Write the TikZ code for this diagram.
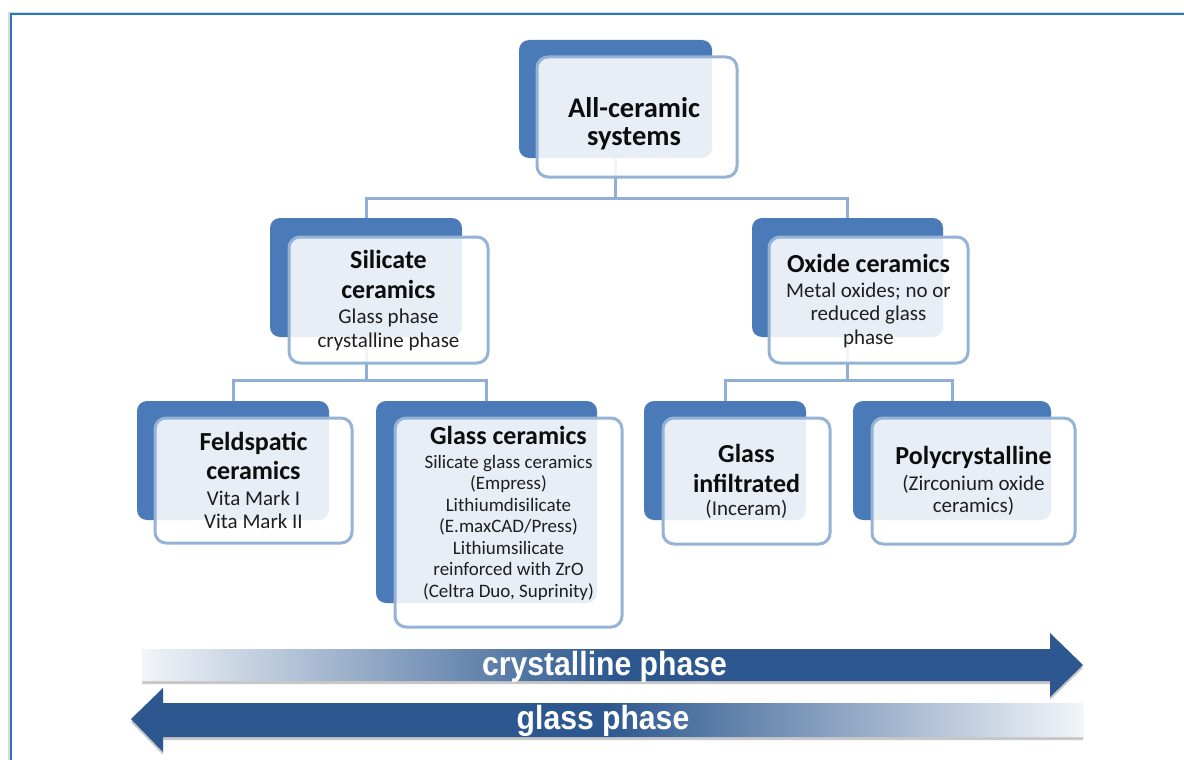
\documentclass[tikz,border=0pt]{standalone}
\usepackage{fontspec}
\setmainfont{Carlito}
\newfontfamily\arrowfont[FakeStretch=0.9]{Liberation Sans}
\usetikzlibrary{calc}
\definecolor{boxdark}{RGB}{74,122,184}
\definecolor{boxline}{RGB}{149,179,215}
\definecolor{connc}{RGB}{145,175,214}
\definecolor{arrdark}{RGB}{45,88,143}
\definecolor{framec}{RGB}{35,120,200}
\definecolor{arrlight}{RGB}{242,245,249}
\pgfdeclarehorizontalshading{crysshade}{100bp}{color(0bp)=(arrlight); color(25bp)=(arrlight); color(50bp)=(arrdark); color(100bp)=(arrdark)}
\pgfdeclarehorizontalshading{glassshade}{100bp}{color(0bp)=(arrdark); color(50bp)=(arrdark); color(75bp)=(arrlight); color(100bp)=(arrlight)}
\pgfdeclarelayer{backlayer}
\pgfdeclarelayer{connlayer}
\pgfsetlayers{backlayer,connlayer,main}
\tikzset{
  darkbox/.style={fill=boxdark, rounded corners=10pt, inner sep=0pt, draw=none},
  frontbox/.style={fill=white, fill opacity=0.88, draw=boxline, line width=3pt, rounded corners=11pt, inner sep=0pt},
  conn/.style={draw=connc, line width=3pt},
  ttl/.style={font=\fontsize{26}{30}\selectfont\bfseries, align=center, inner sep=0pt, anchor=north, text=black!95},
  bdy/.style={font=\fontsize{21}{23.5}\selectfont, align=center, inner sep=0pt, anchor=north, text=black!88},
  arrtxt/.style={font=\arrowfont\bfseries\fontsize{33.5}{33.5}\selectfont, text=white, inner sep=0pt, anchor=base},
  arrshadow/.style={fill=black, opacity=0.22},
}
\begin{document}
\begin{tikzpicture}[x=1pt,y=-1pt]
\useasboundingbox (0,0) rectangle (1184,760);
\begin{pgfonlayer}{backlayer}
\fill[white] (0,0) rectangle (1184,760);
\draw[black!15, line width=1.5pt] (9,760) -- (9,12.5) -- (1184,12.5);
\draw[framec, line width=2pt] (10.5,760) -- (10.5,14) -- (1184,14);
\end{pgfonlayer}

% dark boxes
\node[darkbox, minimum width=193pt, minimum height=118pt] (topD) at (615.5,99) {};
\node[darkbox, minimum width=192pt, minimum height=119pt] (silD) at (366,277.5) {};
\node[darkbox, minimum width=191pt, minimum height=119pt] (oxD) at (847.5,277.5) {};
\node[darkbox, minimum width=192pt, minimum height=119pt] (felD) at (233,460.5) {};
\node[darkbox, minimum width=221pt, minimum height=202pt] (gcD) at (486.5,502) {};
\node[darkbox, minimum width=162pt, minimum height=119pt] (giD) at (725,460.5) {};
\node[darkbox, minimum width=198pt, minimum height=119pt] (poD) at (952,460.5) {};

% front boxes
\node[frontbox, minimum width=200pt, minimum height=120pt] (topF) at (637,117) {};
\node[frontbox, minimum width=199pt, minimum height=126pt] (silF) at (388.5,300) {};
\node[frontbox, minimum width=199pt, minimum height=126pt] (oxF) at (868.5,300) {};
\node[frontbox, minimum width=197pt, minimum height=125pt] (felF) at (253.5,480.5) {};
\node[frontbox, minimum width=227pt, minimum height=209pt] (gcF) at (508.5,522.5) {};
\node[frontbox, minimum width=167pt, minimum height=126pt] (giF) at (746.5,481) {};
\node[frontbox, minimum width=203pt, minimum height=126pt] (poF) at (973.5,481) {};

% connectors
\coordinate (j1) at (topD.center |- 0,198);
\coordinate (j2) at (silD.center |- 0,380);
\coordinate (j3) at (oxD.center |- 0,380);
\begin{pgfonlayer}{connlayer}
\draw[conn] (topD.center) -- (j1);
\draw[conn] (silD.center) |- (j1) -| (oxD.center);
\draw[conn] (silD.center) -- (j2);
\draw[conn] (felD.center) |- (j2) -| (gcD.center);
\draw[conn] (oxD.center) -- (j3);
\draw[conn] (giD.center) |- (j3) -| (poD.center);
\end{pgfonlayer}

% texts
\node[ttl, font=\fontsize{28.5}{28}\selectfont\bfseries] (tTop) at (634,97) {All-ceramic\\systems};
\node[ttl] (tSil) at (388.5,250) {Silicate\\ceramics};
\node[bdy, font=\fontsize{21}{24}\selectfont] (bSil) at (388.5,308.5) {Glass phase\\crystalline phase};
\node[ttl] (tOx) at (868.5,254) {Oxide ceramics};
\node[bdy] (bOx) at (868.5,282.5) {Metal oxides; no or\\reduced glass\\phase};
\node[ttl, font=\fontsize{26}{29}\selectfont\bfseries] (tFel) at (253.5,432) {Feldspatic\\ceramics};
\node[bdy, font=\fontsize{21}{23}\selectfont] (bFel) at (253.5,490.5) {Vita Mark I\\Vita Mark II};
\node[ttl] (tGc) at (508.5,426) {Glass ceramics};
\node[bdy, font=\fontsize{19}{21.5}\selectfont] (bGc) at (508.5,454.7) {Silicate glass ceramics\\(Empress)\\Lithiumdisilicate\\(E.maxCAD/Press)\\Lithiumsilicate\\reinforced with ZrO\\(Celtra Duo, Suprinity)};
\node[ttl] (tGi) at (746.5,444) {Glass\\infiltrated};
\node[bdy] (bGi) at (746.5,499.5) {(Inceram)};
\node[ttl] (tPo) at (973.5,446) {Polycrystalline};
\node[bdy, font=\fontsize{21}{22}\selectfont] (bPo) at (973.5,474.5) {(Zirconium oxide\\ceramics)};

% arrows
\fill[arrshadow] (142,652) -- (1050,652) -- (1050,636) -- (1083,668) -- (1050,700) -- (1050,684) -- (142,684) -- cycle;
\shade[shading=crysshade] (142,649) -- (1050,649) -- (1050,633) -- (1083,665) -- (1050,697) -- (1050,681) -- (142,681) -- cycle;
\fill[arrshadow] (1083,706) -- (163,706) -- (163,691) -- (131,722) -- (163,755) -- (163,740) -- (1083,740) -- cycle;
\shade[shading=glassshade] (1083,703) -- (163,703) -- (163,688) -- (131,719) -- (163,752) -- (163,737) -- (1083,737) -- cycle;
\node[arrtxt] (aCrys) at (604.5,675) {crystalline phase};
\node[arrtxt] (aGlass) at (603,729) {glass phase};
\end{tikzpicture}
\end{document}
